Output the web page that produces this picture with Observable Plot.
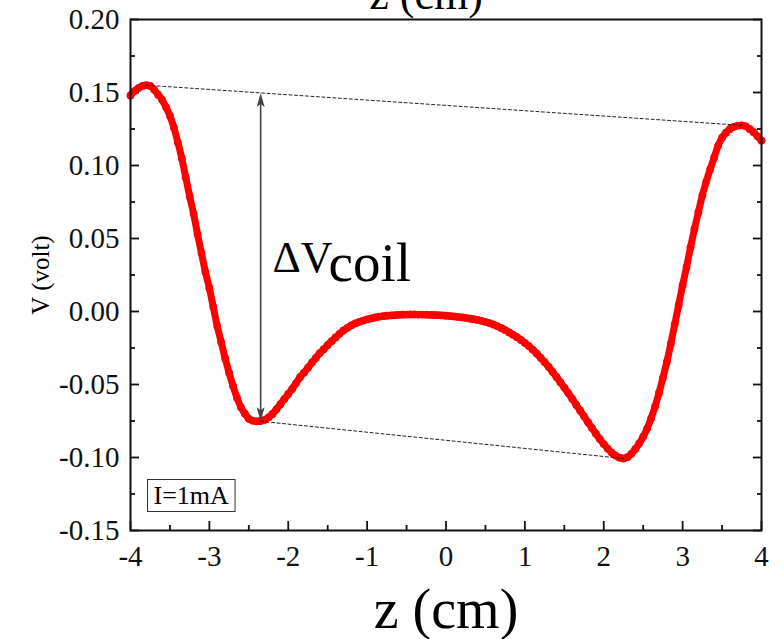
<!DOCTYPE html>
<html>
<head>
<meta charset="utf-8">
<script src="https://cdn.jsdelivr.net/npm/d3@7"></script>
<script src="https://cdn.jsdelivr.net/npm/@observablehq/plot@0.6"></script>
<style>
  body { margin: 0; background: #fff; }
  #chart svg { display: block; }
  #chart svg, #chart svg text { font-family: "Liberation Serif", "Times New Roman", serif !important; }
  #chart svg [aria-label$="tick label"] { font-size: 29px; }
</style>
</head>
<body>
<div id="chart"></div>
<script>
// Coil voltage measured along the axis, sampled every 0.05 cm from -4 to 4 cm
const zFirst = -4;
const zStep = 0.05;
const voltage = [
  0.148, 0.151, 0.153, 0.1545, 0.155, 0.1545, 0.152, 0.1485, 0.145, 0.140,
  0.134, 0.126, 0.116, 0.105, 0.092, 0.079, 0.067, 0.053, 0.040, 0.027,
  0.016, 0.003, -0.010, -0.021, -0.032, -0.042, -0.051, -0.059, -0.0655, -0.070,
  -0.0735, -0.0748, -0.0752, -0.075, -0.0742, -0.0725, -0.0702, -0.067, -0.0635, -0.060,
  -0.0565, -0.053, -0.049, -0.045, -0.0418, -0.0385, -0.035, -0.0318, -0.0285, -0.0258,
  -0.023, -0.0203, -0.0178, -0.0153, -0.013, -0.0112, -0.0095, -0.0082, -0.0071, -0.0062,
  -0.0054, -0.0047, -0.0041, -0.0036, -0.0032, -0.0029, -0.0027, -0.0025, -0.0023, -0.0022,
  -0.0021, -0.0020, -0.0020, -0.0021, -0.0021, -0.0022, -0.0023, -0.0024, -0.0025, -0.0027,
  -0.0029, -0.0031, -0.0034, -0.0037, -0.0040, -0.0044, -0.0048, -0.0053, -0.0058, -0.0064,
  -0.0071, -0.0079, -0.0089, -0.0100, -0.0113, -0.0127, -0.0143, -0.0159, -0.0176, -0.0195,
  -0.0215, -0.0237, -0.0261, -0.0288, -0.0317, -0.0347, -0.0379, -0.0413, -0.0448, -0.0484,
  -0.0521, -0.0559, -0.0598, -0.0638, -0.0678, -0.0718, -0.0759, -0.0798, -0.0837, -0.0874,
  -0.0908, -0.0939, -0.0966, -0.0987, -0.1001, -0.1007, -0.0998, -0.0975, -0.0942, -0.0903,
  -0.0858, -0.0802, -0.0732, -0.0652, -0.0558, -0.0455, -0.0345, -0.0222, -0.0088, 0.0045,
  0.0180, 0.0305, 0.0440, 0.0565, 0.0680, 0.0795, 0.0890, 0.0975, 0.1055, 0.1135,
  0.1190, 0.1225, 0.1250, 0.1265, 0.1273, 0.1275, 0.1268, 0.1250, 0.1228, 0.1200,
  0.1170
];

// Tangent lines through the two maxima and the two minima
const upperTangentZ = [-3.80, 3.75];
const upperTangentV = [0.155, 0.1275];
const lowerTangentZ = [-2.35, 2.25];
const lowerTangentV = [-0.0752, -0.1007];

// Double-headed arrow marking the coil signal, and its label
const arrowZ = -2.35;
const arrowTopV = 0.1497;
const arrowBottomV = -0.0752;
const labelParts = ["ΔV", "coil"];
const labelZ = [-2.20, -1.49];
const labelV = [0.027, 0.0212];
const labelSizes = [44, 55];

const legendText = "I=1mA";
const xTitle = "z (cm)";
const yTitle = "V (volt)";

const xMajor = [-4, -3, -2, -1, 0, 1, 2, 3, 4];
const xMinor = [-3.5, -2.5, -1.5, -0.5, 0.5, 1.5, 2.5, 3.5];
const yMajor = [-0.15, -0.10, -0.05, 0.00, 0.05, 0.10, 0.15, 0.20];
const yMinor = [-0.125, -0.075, -0.025, 0.025, 0.075, 0.125, 0.175];

const points = voltage.map((v, i) => ({z: zFirst + i * zStep, v}));
const upper = upperTangentZ.map((z, i) => ({z, v: upperTangentV[i]}));
const lower = lowerTangentZ.map((z, i) => ({z, v: lowerTangentV[i]}));
const labels = labelParts.map((t, i) => ({t, z: labelZ[i], v: labelV[i], s: labelSizes[i]}));

const serif = "Liberation Serif";
const ink = "#111";
const arrowInk = "#444";

// Narrow filled arrowheads with the tip at the anchor point
const headUp = {draw(c) { c.moveTo(0, 0); c.lineTo(4, 14); c.lineTo(0, 11); c.lineTo(-4, 14); c.closePath(); }};
const headDown = {draw(c) { c.moveTo(0, 0); c.lineTo(4, -14); c.lineTo(0, -11); c.lineTo(-4, -14); c.closePath(); }};

const blank = () => "";

const chart = Plot.plot({
  width: 784,
  height: 639,
  marginLeft: 130,
  marginRight: 23,
  marginTop: 19,
  marginBottom: 109,
  style: {fontFamily: serif, color: ink, background: "#fff"},
  x: {domain: [-4, 4]},
  y: {domain: [-0.15, 0.20]},
  marks: [
    // tick labels
    Plot.axisX({ticks: xMajor, tickSize: 0, tickPadding: 15, tickFormat: d => String(d), label: null}),
    Plot.axisY({ticks: yMajor, tickSize: 0, tickPadding: 11, tickFormat: d => d.toFixed(2), label: null}),
    // inward ticks on bottom, left and right
    Plot.axisX({ticks: xMajor, tickSize: -9, strokeWidth: 1.8, tickFormat: blank, label: null}),
    Plot.axisX({ticks: xMinor, tickSize: -5, strokeWidth: 1.8, tickFormat: blank, label: null}),
    Plot.axisY({ticks: yMajor, tickSize: -9, strokeWidth: 1.8, tickFormat: blank, label: null}),
    Plot.axisY({ticks: yMinor, tickSize: -5, strokeWidth: 1.8, tickFormat: blank, label: null}),
    Plot.axisY({anchor: "right", ticks: yMajor, tickSize: -9, strokeWidth: 1.8, tickFormat: blank, label: null}),
    Plot.axisY({anchor: "right", ticks: yMinor, tickSize: -5, strokeWidth: 1.8, tickFormat: blank, label: null}),

    // measured curve
    Plot.line(points, {x: "z", y: "v", stroke: "#ff0000", strokeWidth: 7, curve: "catmull-rom"}),
    Plot.dot(points, {x: "z", y: "v", r: 3.9, fill: "#ff0000", stroke: "none"}),

    // tangent lines
    Plot.line(upper, {x: "z", y: "v", stroke: "#222", strokeWidth: 1, strokeDasharray: "3,2.5"}),
    Plot.line(lower, {x: "z", y: "v", stroke: "#222", strokeWidth: 1, strokeDasharray: "3,2.5"}),

    // double-headed arrow
    Plot.ruleX([arrowZ], {y1: arrowBottomV + 0.006, y2: arrowTopV - 0.006, stroke: arrowInk, strokeWidth: 1.6}),
    Plot.dot([{z: arrowZ, v: arrowTopV}], {x: "z", y: "v", symbol: headUp, fill: arrowInk, stroke: "none", r: 5}),
    Plot.dot([{z: arrowZ, v: arrowBottomV}], {x: "z", y: "v", symbol: headDown, fill: arrowInk, stroke: "none", r: 5}),

    // ΔV_coil label
    Plot.text(labels.slice(0, 1), {x: "z", y: "v", text: "t", fontFamily: serif, fontSize: labels[0].s, textAnchor: "start", lineAnchor: "bottom", fill: "#000"}),
    Plot.text(labels.slice(1), {x: "z", y: "v", text: "t", fontFamily: serif, fontSize: labels[1].s, textAnchor: "start", lineAnchor: "bottom", fill: "#000"}),

    // legend entry
    Plot.text([legendText], {frameAnchor: "bottom-left", dx: 23, dy: -27, textAnchor: "start", lineAnchor: "bottom", fontFamily: serif, fontSize: 26, fill: "#000"}),

    // axis titles
    Plot.text([xTitle], {frameAnchor: "bottom", dy: 97, textAnchor: "middle", lineAnchor: "bottom", fontFamily: serif, fontSize: 56, fill: "#000"}),
    Plot.text([xTitle], {frameAnchor: "top", dx: -20, dy: -11, textAnchor: "middle", lineAnchor: "bottom", fontFamily: serif, fontSize: 44, fill: "#000"}),
    Plot.text([yTitle], {frameAnchor: "left", dx: -90, rotate: -90, textAnchor: "middle", lineAnchor: "middle", fontFamily: serif, fontSize: 25, fill: "#000"}),

    Plot.frame({stroke: ink, strokeWidth: 2})
  ]
});

document.getElementById("chart").append(chart);

// Box around the legend entry
const svg = d3.select(chart);
svg.selectAll("text").filter(function () { return this.textContent === legendText; }).each(function () {
  const b = this.getBBox();
  const g = d3.select(this.parentNode);
  const t = this.getAttribute("transform");
  g.insert("rect", () => this)
    .attr("transform", t)
    .attr("x", b.x - 6).attr("y", b.y - 1)
    .attr("width", b.width + 12).attr("height", b.height + 3)
    .attr("fill", "#fff").attr("stroke", "#333").attr("stroke-width", 1);
});
</script>
</body>
</html>
